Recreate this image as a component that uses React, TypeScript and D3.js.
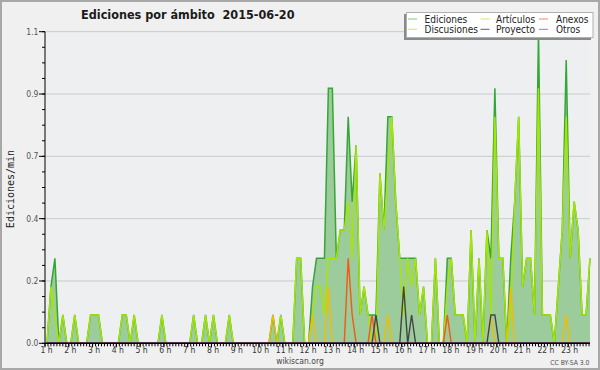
import React from 'react';
import * as d3 from 'd3';

const W = 600;
const H = 370;

// 10-minute bins, first bin centred at 1:05 (minutes of the day)
const firstBinMinute = 65;
const binMinutes = 10;

const ediciones = [
  0, 0.2, 0.3, 0, 0.1, 0, 0, 0.1, 0, 0, 0, 0.1,
  0.1, 0.1, 0, 0, 0, 0, 0, 0.1, 0.1, 0, 0.1, 0,
  0, 0, 0, 0, 0, 0.1, 0, 0, 0, 0, 0, 0,
  0, 0.1, 0, 0, 0.1, 0, 0.1, 0, 0, 0, 0.1, 0,
  0, 0, 0, 0, 0, 0, 0, 0, 0, 0.1, 0, 0.1,
  0, 0, 0, 0.3, 0.3, 0, 0, 0.2, 0.3, 0.3, 0.3, 0.9,
  0.9, 0.3, 0.4, 0.4, 0.8, 0.5, 0.7, 0.1, 0.2, 0.1, 0.1, 0.1,
  0.6, 0.4, 0.8, 0.8, 0.5, 0.3, 0.3, 0.3, 0.3, 0.3, 0.1, 0.2,
  0, 0, 0.3, 0, 0, 0.3, 0.3, 0.1, 0.1, 0.1, 0, 0.4,
  0, 0.3, 0, 0.4, 0.3, 0.9, 0.3, 0.3, 0, 0.3, 0.5, 0.8,
  0.2, 0.3, 0.3, 0.1, 1.1, 0.1, 0.1, 0.1, 0, 0.2, 0.4, 1.0,
  0.3, 0.5, 0.4, 0.1, 0.1, 0.3,
];

const articulos = [
  0, 0.2, 0.1, 0, 0.1, 0, 0, 0.1, 0, 0, 0, 0.1,
  0.1, 0.1, 0, 0, 0, 0, 0, 0.1, 0.1, 0, 0.1, 0,
  0, 0, 0, 0, 0, 0.1, 0, 0, 0, 0, 0, 0,
  0, 0.1, 0, 0, 0.1, 0, 0.1, 0, 0, 0, 0.1, 0,
  0, 0, 0, 0, 0, 0, 0, 0, 0, 0, 0, 0.1,
  0, 0, 0, 0.3, 0.3, 0, 0, 0.1, 0.2, 0.2, 0.1, 0.3,
  0.3, 0.3, 0.4, 0.4, 0.5, 0.3, 0.7, 0.1, 0.2, 0.1, 0, 0,
  0.6, 0.4, 0.6, 0.8, 0.5, 0.3, 0.1, 0.3, 0.2, 0.3, 0.1, 0.2,
  0, 0, 0.3, 0, 0, 0.2, 0.3, 0.1, 0.1, 0.1, 0, 0.4,
  0, 0.3, 0, 0.4, 0.1, 0.8, 0.3, 0.3, 0, 0.1, 0.5, 0.8,
  0.2, 0.3, 0.3, 0.1, 0.9, 0.1, 0.1, 0.1, 0, 0.2, 0.4, 0.8,
  0.3, 0.5, 0.4, 0.1, 0.1, 0.3,
];

const anexos = [
  0, 0, 0, 0, 0, 0, 0, 0, 0, 0, 0, 0,
  0, 0, 0, 0, 0, 0, 0, 0, 0, 0, 0, 0,
  0, 0, 0, 0, 0, 0, 0, 0, 0, 0, 0, 0,
  0, 0, 0, 0, 0, 0, 0, 0, 0, 0, 0, 0,
  0, 0, 0, 0, 0, 0, 0, 0, 0, 0, 0, 0,
  0, 0, 0, 0, 0, 0, 0, 0, 0, 0, 0, 0,
  0, 0, 0, 0, 0.3, 0.1, 0, 0, 0, 0, 0.1, 0,
  0, 0, 0, 0, 0, 0, 0, 0, 0, 0, 0, 0,
  0, 0, 0, 0, 0, 0.1, 0, 0, 0, 0, 0, 0,
  0, 0, 0, 0, 0, 0, 0, 0, 0, 0, 0, 0,
  0, 0, 0, 0, 0, 0, 0, 0, 0, 0, 0, 0,
  0, 0, 0, 0, 0, 0,
];

const discusiones = [
  0, 0, 0, 0, 0, 0, 0, 0, 0, 0, 0, 0,
  0, 0, 0, 0, 0, 0, 0, 0, 0, 0, 0, 0,
  0, 0, 0, 0, 0, 0, 0, 0, 0, 0, 0, 0,
  0, 0, 0, 0, 0, 0, 0, 0, 0, 0, 0, 0,
  0, 0, 0, 0, 0, 0, 0, 0, 0, 0.1, 0, 0,
  0, 0, 0, 0, 0, 0, 0, 0.1, 0, 0, 0, 0.2,
  0, 0, 0, 0, 0, 0, 0, 0, 0, 0, 0, 0,
  0, 0, 0.1, 0, 0, 0, 0, 0, 0, 0, 0, 0,
  0, 0, 0, 0, 0, 0, 0, 0, 0, 0, 0, 0,
  0, 0, 0, 0, 0.1, 0, 0, 0, 0, 0.2, 0, 0,
  0, 0, 0, 0, 0, 0, 0, 0, 0, 0, 0, 0.1,
  0, 0, 0, 0, 0, 0,
];

const proyecto = [
  0, 0, 0, 0, 0, 0, 0, 0, 0, 0, 0, 0,
  0, 0, 0, 0, 0, 0, 0, 0, 0, 0, 0, 0,
  0, 0, 0, 0, 0, 0, 0, 0, 0, 0, 0, 0,
  0, 0, 0, 0, 0, 0, 0, 0, 0, 0, 0, 0,
  0, 0, 0, 0, 0, 0, 0, 0, 0, 0, 0, 0,
  0, 0, 0, 0, 0, 0, 0, 0, 0, 0, 0, 0,
  0, 0, 0, 0, 0, 0, 0, 0, 0, 0, 0, 0.1,
  0, 0, 0, 0, 0, 0, 0.2, 0, 0.1, 0, 0, 0,
  0, 0, 0, 0, 0, 0, 0, 0, 0, 0, 0, 0,
  0, 0, 0, 0, 0.1, 0.1, 0, 0, 0, 0, 0, 0,
  0, 0, 0, 0, 0, 0, 0, 0, 0, 0, 0, 0,
  0, 0, 0, 0, 0, 0,
];

const otros = [
  0, 0, 0, 0, 0, 0, 0, 0, 0, 0, 0, 0,
  0, 0, 0, 0, 0, 0, 0, 0, 0, 0, 0, 0,
  0, 0, 0, 0, 0, 0, 0, 0, 0, 0, 0, 0,
  0, 0, 0, 0, 0, 0, 0, 0, 0, 0, 0, 0,
  0, 0, 0, 0, 0, 0, 0, 0, 0, 0, 0, 0,
  0, 0, 0, 0, 0, 0, 0, 0, 0, 0, 0, 0,
  0, 0, 0, 0, 0, 0, 0, 0, 0, 0, 0, 0,
  0, 0, 0, 0, 0, 0, 0, 0, 0, 0, 0, 0,
  0, 0, 0, 0, 0, 0, 0, 0, 0, 0, 0, 0,
  0, 0, 0, 0, 0, 0, 0, 0, 0, 0, 0, 0,
  0, 0, 0, 0, 0, 0, 0, 0, 0, 0, 0, 0,
  0, 0, 0, 0, 0, 0,
];

const hourTicks = [1, 2, 3, 4, 5, 6, 7, 8, 9, 10, 11, 12, 13, 14, 15, 16, 17, 18, 19, 20, 21, 22, 23];
const hourLabels = hourTicks.map((h) => `${h} h`);
const yTicks = [0, 0.22, 0.44, 0.66, 0.88, 1.1];
const yTickLabels = ['0.0', '0.2', '0.4', '0.7', '0.9', '1.1'];

const seriesNames = ['Ediciones', 'Artículos', 'Anexos', 'Discusiones', 'Proyecto', 'Otros'];
const seriesColors = ['#36a636', '#a8e600', '#f05a14', '#f4bc00', '#444444', '#9a4fe8'];
const legendColors = ['#7ccc7c', '#c8ee60', '#f58a5a', '#f8d850', '#606060', '#a070f0'];

const title = 'Ediciones por ámbito  2015-06-20';
const yTitle = 'Ediciones/min';

const FONT = '"DejaVu Sans", sans-serif';

export default function App() {
  const left = 45;
  const right = 590;
  const top = 31.7;
  const bottom = 343.3;

  const x = d3.scaleLinear().domain([60, 1435]).range([left, right]);
  const y = d3.scaleLinear().domain([0, 1.1]).range([bottom, top]);

  const times = ediciones.map((_, i) => firstBinMinute + i * binMinutes);

  const allSeries = [ediciones, articulos, anexos, discusiones, proyecto, otros];

  const area = d3
    .area<number>()
    .x((_, i) => x(times[i]))
    .y0(y(0))
    .y1((d) => y(d));
  const line = d3
    .line<number>()
    .x((_, i) => x(times[i]))
    .y((d) => y(d));

  const yMinor = d3.range(0, 1.1 + 1e-9, 0.055);
  const xMinor = d3.range(60, 1435 + 1e-9, 7.5);

  const legendCols = [408, 480.5, 539];
  const legendTextCols = [424.5, 496, 556];
  const legendRows = [19, 29.3];

  return (
    <svg
      width={W}
      height={H}
      style={{ position: 'absolute', left: 0, top: 0, display: 'block' }}
      fontFamily={FONT}
    >
      <rect x={0} y={0} width={W} height={H} fill="#f0f0f0" />
      <rect x={1} y={1} width={W - 2} height={H - 2} fill="none" stroke="#a8a8a8" strokeWidth={2} />
      <rect x={left} y={top} width={right - left} height={bottom - top} fill="#edeff1" />

      {yTicks.slice(1).map((t) => (
        <line key={t} x1={left} x2={right} y1={y(t)} y2={y(t)} stroke="#cbcbcb" strokeWidth={1} />
      ))}

      <path d={area(ediciones) || ''} fill="#9ccb9c" />
      {allSeries.map((s, si) => (
        <path
          key={si}
          d={line(s) || ''}
          fill="none"
          stroke={seriesColors[si]}
          strokeWidth={si === 0 ? 1.5 : 1.4}
          strokeLinejoin="miter"
        />
      ))}

      {/* axes */}
      <line x1={left} x2={left} y1={top} y2={bottom} stroke="#000" strokeWidth={1} />
      <line x1={left} x2={right} y1={bottom} y2={bottom} stroke="#000" strokeWidth={1.6} />
      {yMinor.map((t, i) => (
        <line key={'ym' + i} x1={left - 3} x2={left} y1={y(t)} y2={y(t)} stroke="#000" strokeWidth={1} />
      ))}
      {yTicks.map((t, i) => (
        <g key={'yt' + i}>
          <line x1={left - 6} x2={left} y1={y(t)} y2={y(t)} stroke="#000" strokeWidth={1} />
          <text
            x={left - 6.5}
            y={y(t) + 3}
            fontSize={8.5}
            textAnchor="end"
            fill="#555"
            style={{ fontStretch: 'condensed' }}
          >
            {yTickLabels[i]}
          </text>
        </g>
      ))}
      {xMinor.map((t, i) => (
        <line key={'xm' + i} x1={x(t)} x2={x(t)} y1={bottom} y2={bottom + 3} stroke="#000" strokeWidth={1} />
      ))}
      {hourTicks.map((h, i) => (
        <g key={'xt' + h}>
          <line x1={x(h * 60)} x2={x(h * 60)} y1={bottom} y2={bottom + 4} stroke="#000" strokeWidth={1} />
          <text
            x={x(h * 60) + 1.5}
            y={353}
            fontSize={8.5}
            textAnchor="middle"
            fill="#333"
            style={{ fontStretch: 'condensed' }}
          >
            {hourLabels[i]}
          </text>
        </g>
      ))}

      {/* titles */}
      <text
        x={187.8}
        y={18.5}
        fontSize={12.5}
        fontWeight="bold"
        textAnchor="middle"
        fill="#1a1a1a"
        style={{ fontStretch: 'condensed', whiteSpace: 'pre' }}
        xmlSpace="preserve"
      >
        {title}
      </text>
      <text
        transform="translate(13.5,189) rotate(-90)"
        fontSize={10}
        textAnchor="middle"
        fill="#222"
        fontFamily='"DejaVu Sans Mono", monospace'
      >
        {yTitle}
      </text>
      <text x={300} y={364} fontSize={8.5} textAnchor="middle" fill="#444" style={{ fontStretch: 'condensed' }}>
        wikiscan.org
      </text>
      <text x={589.5} y={365} fontSize={6.8} textAnchor="end" fill="#555" style={{ fontStretch: 'condensed' }}>
        CC BY-SA 3.0
      </text>

      {/* legend */}
      <rect x={404} y={14} width={187} height={26} fill="#8a8a8a" />
      <rect x={406.5} y={12.5} width={186.5} height={25} fill="#ffffff" stroke="#b0b0b0" strokeWidth={1} />
      {seriesNames.map((name, i) => {
        const col = i % 3;
        const row = Math.floor(i / 3);
        const ly = legendRows[row];
        return (
          <g key={name}>
            <line
              x1={legendCols[col]}
              x2={legendCols[col] + 9}
              y1={ly}
              y2={ly}
              stroke={legendColors[i]}
              strokeWidth={1}
            />
            <text
              x={legendTextCols[col]}
              y={ly + 3.6}
              fontSize={10}
              fill="#222"
              style={{ fontStretch: 'condensed' }}
            >
              {name}
            </text>
          </g>
        );
      })}
    </svg>
  );
}
